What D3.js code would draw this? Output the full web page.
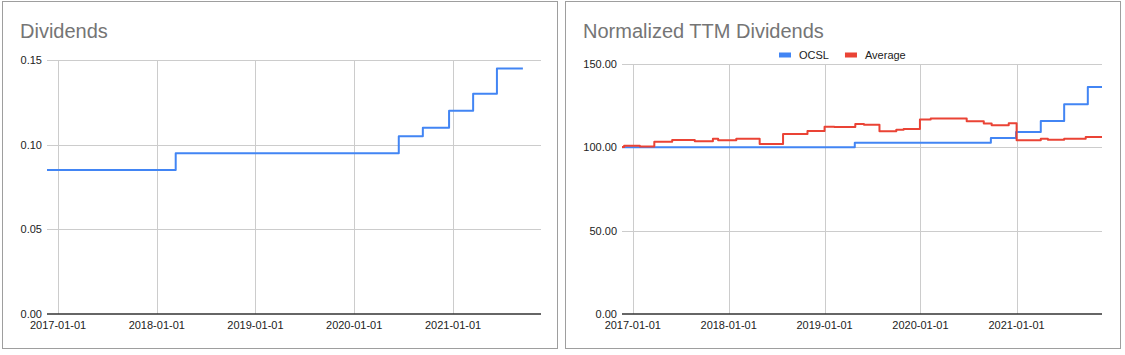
<!DOCTYPE html>
<html>
<head>
<meta charset="utf-8">
<script src="https://cdn.jsdelivr.net/npm/d3@7"></script>
<style>
  body { margin: 0; background: #fff; }
  svg { display: block; }
  text { font-family: Arial, "Liberation Sans", sans-serif; }
</style>
</head>
<body>
<svg id="chart" width="1125" height="355"></svg>
<script>
// ---- Data ----
const domainDates = ["2016-11-21", "2021-11-22"];
const xTickLabels = ["2017-01-01", "2018-01-01", "2019-01-01", "2020-01-01", "2021-01-01"];

// Left: Dividends (step series)
const divDates = ["2016-11-21", "2018-03-12", "2020-06-14", "2020-09-11", "2020-12-17", "2021-03-16", "2021-06-12", "2021-09-16"];
const divValues = [0.085, 0.095, 0.105, 0.11, 0.12, 0.13, 0.145, 0.145];
const divYTicks = [0, 0.05, 0.10, 0.15];
const divYLabels = ["0.00", "0.05", "0.10", "0.15"];

// Right: Normalized TTM Dividends
const ocslDates = ["2016-11-21", "2019-04-26", "2020-09-25", "2020-12-30", "2021-04-03", "2021-07-01", "2021-09-29", "2021-11-22"];
const ocslValues = [100, 102.7, 105.6, 109.2, 115.8, 125.9, 136.2, 136.2];
const avgDates = ["2016-11-21", "2016-11-29", "2017-01-28", "2017-03-24", "2017-05-31", "2017-08-25", "2017-11-02", "2017-11-22",
  "2018-01-30", "2018-04-29", "2018-07-27", "2018-10-28", "2019-01-01", "2019-02-07", "2019-04-28", "2019-05-31",
  "2019-07-29", "2019-10-01", "2019-10-29", "2019-12-30", "2020-02-09", "2020-06-25", "2020-08-29", "2020-09-28",
  "2020-12-02", "2021-01-01", "2021-04-03", "2021-04-30", "2021-07-01", "2021-09-21", "2021-11-22"];
const avgValues = [100.2, 101, 100.5, 103.4, 104.4, 103.6, 105.2, 104.2,
  105.2, 102, 108, 109.8, 112.4, 112.2, 114, 113.5,
  109.6, 110.6, 111, 116.7, 117.3, 115.7, 114.3, 113.3,
  114.5, 104.2, 105.2, 104.6, 105.2, 106.2, 106.2];
const normYTicks = [0, 50, 100, 150];
const normYLabels = ["0.00", "50.00", "100.00", "150.00"];
const seriesNames = ["OCSL", "Average"];
const seriesColors = ["#4285F4", "#EA4335"];

// ---- Drawing ----
const parse = d3.utcParse("%Y-%m-%d");
const svg = d3.select("#chart");

function panel(opts) {
  const g = svg.append("g");
  // border
  g.append("rect")
    .attr("x", opts.box[0] + 0.5).attr("y", opts.box[1] + 0.5)
    .attr("width", opts.box[2]).attr("height", opts.box[3])
    .attr("fill", "#fff").attr("stroke", "#9e9e9e").attr("stroke-width", 1);
  // title
  g.append("text").attr("x", opts.titleX).attr("y", 37.5)
    .attr("font-size", 20).attr("fill", "#757575").text(opts.title);

  const x = d3.scaleUtc().domain(domainDates.map(parse)).range([opts.left, opts.right]);
  const y = d3.scaleLinear().domain([0, opts.yMax]).range([opts.bottom, opts.top]);

  // horizontal gridlines (non-zero)
  g.append("g").selectAll("line").data(opts.yTicks.filter(d => d !== 0)).join("line")
    .attr("x1", opts.left).attr("x2", opts.right)
    .attr("y1", d => Math.round(y(d)) + 0.5).attr("y2", d => Math.round(y(d)) + 0.5)
    .attr("stroke", "#cccccc").attr("stroke-width", 1);
  // vertical gridlines
  const xt = xTickLabels.map(parse);
  g.append("g").selectAll("line").data(xt).join("line")
    .attr("x1", d => Math.round(x(d)) + 0.5).attr("x2", d => Math.round(x(d)) + 0.5)
    .attr("y1", opts.top).attr("y2", opts.bottom)
    .attr("stroke", "#cccccc").attr("stroke-width", 1);

  // y labels
  g.append("g").selectAll("text").data(opts.yTicks).join("text")
    .attr("x", opts.left - 5).attr("y", d => y(d)).attr("dy", "0.35em")
    .attr("text-anchor", "end").attr("font-size", 11).attr("fill", "#222")
    .text((d, i) => opts.yLabels[i]);
  // x labels
  g.append("g").selectAll("text").data(xt).join("text")
    .attr("x", d => x(d)).attr("y", opts.bottom + 15)
    .attr("text-anchor", "middle").attr("font-size", 11).attr("fill", "#222")
    .text((d, i) => xTickLabels[i]);

  // series
  const line = d3.line().x(d => x(d[0])).y(d => y(d[1])).curve(d3.curveStepAfter);
  opts.series.forEach(s => {
    const pts = s.dates.map((d, i) => [parse(d), s.values[i]]);
    g.append("path").datum(pts).attr("d", line)
      .attr("fill", "none").attr("stroke", s.color).attr("stroke-width", 2)
      .attr("stroke-linejoin", "round");
  });

  // baseline
  g.append("line").attr("x1", opts.left).attr("x2", opts.right)
    .attr("y1", y(0)).attr("y2", y(0))
    .attr("stroke", "#333").attr("stroke-width", 1.3);

  // legend
  if (opts.legend) {
    const lg = g.append("g");
    let lx = opts.legend.x;
    opts.series.forEach((s, i) => {
      lg.append("rect").attr("x", lx).attr("y", opts.legend.y - 2.5).attr("width", 12).attr("height", 5)
        .attr("fill", s.color);
      const t = lg.append("text").attr("x", lx + 20).attr("y", opts.legend.y).attr("dy", "0.35em")
        .attr("font-size", 11).attr("fill", "#222").text(seriesNames[i]);
      lx += 20 + t.node().getComputedTextLength() + 16;
    });
  }
}

panel({
  box: [2, 1, 555, 347], title: "Dividends", titleX: 20,
  left: 47, right: 541, top: 60, bottom: 314, yMax: 0.15,
  yTicks: divYTicks, yLabels: divYLabels,
  series: [{ dates: divDates, values: divValues, color: seriesColors[0] }]
});

panel({
  box: [565, 1, 555, 347], title: "Normalized TTM Dividends", titleX: 583,
  left: 622, right: 1102, top: 64, bottom: 314, yMax: 150,
  yTicks: normYTicks, yLabels: normYLabels,
  series: [
    { dates: ocslDates, values: ocslValues, color: seriesColors[0] },
    { dates: avgDates, values: avgValues, color: seriesColors[1] }
  ],
  legend: { x: 779, y: 55 }
});
</script>
</body>
</html>
